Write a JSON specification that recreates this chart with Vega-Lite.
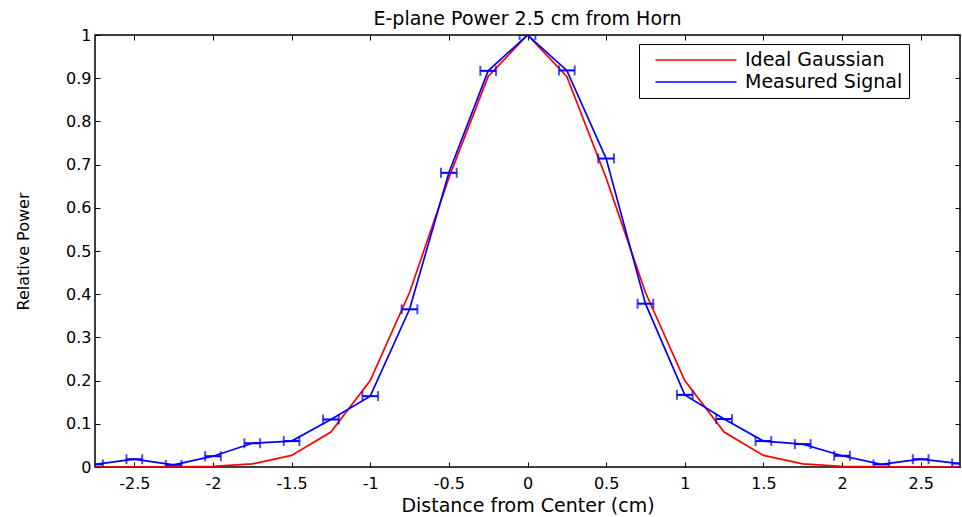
{
  "$schema": "https://vega.github.io/schema/vega-lite/v6.json",
  "width": 865,
  "height": 432,
  "autosize": {"type": "none"},
  "padding": {"left": 95, "top": 35, "right": 2, "bottom": 50},
  "background": "white",
  "title": {"text": "E-plane Power 2.5 cm from Horn", "font": "DejaVu Sans", "fontSize": 19, "fontWeight": "normal", "color": "black", "offset": -2},
  "data": {"values": [
    {"series": "Ideal Gaussian", "x": -2.75, "y": 0.0000},
    {"series": "Ideal Gaussian", "x": -2.5, "y": 0.00004},
    {"series": "Ideal Gaussian", "x": -2.25, "y": 0.0003},
    {"series": "Ideal Gaussian", "x": -2.0, "y": 0.0016},
    {"series": "Ideal Gaussian", "x": -1.75, "y": 0.0072},
    {"series": "Ideal Gaussian", "x": -1.5, "y": 0.0268},
    {"series": "Ideal Gaussian", "x": -1.25, "y": 0.081},
    {"series": "Ideal Gaussian", "x": -1.0, "y": 0.2},
    {"series": "Ideal Gaussian", "x": -0.75, "y": 0.404},
    {"series": "Ideal Gaussian", "x": -0.5, "y": 0.669},
    {"series": "Ideal Gaussian", "x": -0.25, "y": 0.904},
    {"series": "Ideal Gaussian", "x": 0.0, "y": 1.0},
    {"series": "Ideal Gaussian", "x": 0.25, "y": 0.904},
    {"series": "Ideal Gaussian", "x": 0.5, "y": 0.669},
    {"series": "Ideal Gaussian", "x": 0.75, "y": 0.404},
    {"series": "Ideal Gaussian", "x": 1.0, "y": 0.2},
    {"series": "Ideal Gaussian", "x": 1.25, "y": 0.081},
    {"series": "Ideal Gaussian", "x": 1.5, "y": 0.0268},
    {"series": "Ideal Gaussian", "x": 1.75, "y": 0.0072},
    {"series": "Ideal Gaussian", "x": 2.0, "y": 0.0016},
    {"series": "Ideal Gaussian", "x": 2.25, "y": 0.0003},
    {"series": "Ideal Gaussian", "x": 2.5, "y": 0.00004},
    {"series": "Ideal Gaussian", "x": 2.75, "y": 0.0000},
    {"series": "Measured Signal", "x": -2.75, "y": 0.006, "xlo": -2.8, "xhi": -2.7},
    {"series": "Measured Signal", "x": -2.5, "y": 0.018, "xlo": -2.55, "xhi": -2.45},
    {"series": "Measured Signal", "x": -2.25, "y": 0.005, "xlo": -2.3, "xhi": -2.2},
    {"series": "Measured Signal", "x": -2.0, "y": 0.025, "xlo": -2.05, "xhi": -1.95},
    {"series": "Measured Signal", "x": -1.75, "y": 0.055, "xlo": -1.8, "xhi": -1.7},
    {"series": "Measured Signal", "x": -1.5, "y": 0.06, "xlo": -1.55, "xhi": -1.45},
    {"series": "Measured Signal", "x": -1.25, "y": 0.11, "xlo": -1.3, "xhi": -1.2},
    {"series": "Measured Signal", "x": -1.0, "y": 0.164, "xlo": -1.05, "xhi": -0.95},
    {"series": "Measured Signal", "x": -0.75, "y": 0.365, "xlo": -0.8, "xhi": -0.7},
    {"series": "Measured Signal", "x": -0.5, "y": 0.681, "xlo": -0.55, "xhi": -0.45},
    {"series": "Measured Signal", "x": -0.25, "y": 0.917, "xlo": -0.3, "xhi": -0.2},
    {"series": "Measured Signal", "x": 0.0, "y": 1.0, "xlo": -0.05, "xhi": 0.05},
    {"series": "Measured Signal", "x": 0.25, "y": 0.918, "xlo": 0.2, "xhi": 0.3},
    {"series": "Measured Signal", "x": 0.5, "y": 0.714, "xlo": 0.45, "xhi": 0.55},
    {"series": "Measured Signal", "x": 0.75, "y": 0.378, "xlo": 0.7, "xhi": 0.8},
    {"series": "Measured Signal", "x": 1.0, "y": 0.167, "xlo": 0.95, "xhi": 1.05},
    {"series": "Measured Signal", "x": 1.25, "y": 0.111, "xlo": 1.2, "xhi": 1.3},
    {"series": "Measured Signal", "x": 1.5, "y": 0.06, "xlo": 1.45, "xhi": 1.55},
    {"series": "Measured Signal", "x": 1.75, "y": 0.053, "xlo": 1.7, "xhi": 1.8},
    {"series": "Measured Signal", "x": 2.0, "y": 0.026, "xlo": 1.95, "xhi": 2.05},
    {"series": "Measured Signal", "x": 2.25, "y": 0.006, "xlo": 2.2, "xhi": 2.3},
    {"series": "Measured Signal", "x": 2.5, "y": 0.018, "xlo": 2.45, "xhi": 2.55},
    {"series": "Measured Signal", "x": 2.75, "y": 0.008, "xlo": 2.7, "xhi": 2.8}
  ]},
  "layer": [
    {
      "mark": {"type": "line", "strokeWidth": 1.7, "clip": true},
      "encoding": {
        "x": {"field": "x", "type": "quantitative", "scale": {"domain": [-2.75, 2.75], "nice": false, "zero": false},
              "axis": {"orient": "bottom", "title": "Distance from Center (cm)", "values": [-2.5, -2, -1.5, -1, -0.5, 0, 0.5, 1, 1.5, 2, 2.5],
                       "labelExpr": "'' + datum.value", "tickSize": -5, "labelPadding": 13, "titlePadding": 5, "grid": false}},
        "y": {"field": "y", "type": "quantitative", "scale": {"domain": [0, 1], "nice": false},
              "axis": {"orient": "left", "title": "Relative Power", "values": [0, 0.1, 0.2, 0.3, 0.4, 0.5, 0.6, 0.7, 0.8, 0.9, 1],
                       "labelExpr": "'' + datum.value", "tickSize": -5, "labelPadding": 9, "titleFontSize": 16, "titlePadding": 34, "grid": false}},
        "color": {"field": "series", "type": "nominal",
                  "scale": {"domain": ["Ideal Gaussian", "Measured Signal"], "range": ["#ff0000", "#0000ff"]},
                  "legend": {"orient": "none", "legendX": 544, "legendY": 9, "title": null, "symbolType": "M-4.5,0H4.5", "symbolSize": 324, "symbolStrokeWidth": 1.5, "symbolOffset": 41,
                             "labelFont": "DejaVu Sans", "labelFontSize": 19, "labelColor": "black", "labelOffset": 39, "rowPadding": 2,
                             "strokeColor": "black", "fillColor": "white", "padding": 6, "cornerRadius": 0}}
      }
    },
    {
      "transform": [{"filter": "datum.series == 'Measured Signal'"}],
      "mark": {"type": "rule", "color": "#0000ff", "strokeWidth": 2, "clip": true},
      "encoding": {
        "x": {"field": "xlo", "type": "quantitative",
              "axis": {"orient": "top", "title": null, "labels": false, "values": [-2.5, -2, -1.5, -1, -0.5, 0, 0.5, 1, 1.5, 2, 2.5], "tickSize": -5, "domain": false, "grid": false, "minExtent": 0, "maxExtent": 0}},
        "x2": {"field": "xhi"},
        "y": {"field": "y", "type": "quantitative",
              "axis": {"orient": "right", "title": null, "labels": false, "values": [0, 0.1, 0.2, 0.3, 0.4, 0.5, 0.6, 0.7, 0.8, 0.9, 1], "tickSize": -5, "domain": false, "grid": false, "minExtent": 0, "maxExtent": 0}}
      }
    },
    {
      "transform": [{"filter": "datum.series == 'Measured Signal'"}],
      "mark": {"type": "tick", "color": "#0000ff", "orient": "vertical", "size": 10, "thickness": 2, "clip": true},
      "encoding": {
        "x": {"field": "xlo", "type": "quantitative", "axis": null},
        "y": {"field": "y", "type": "quantitative", "axis": null}
      }
    },
    {
      "transform": [{"filter": "datum.series == 'Measured Signal'"}],
      "mark": {"type": "tick", "color": "#0000ff", "orient": "vertical", "size": 10, "thickness": 2, "clip": true},
      "encoding": {
        "x": {"field": "xhi", "type": "quantitative", "axis": null},
        "y": {"field": "y", "type": "quantitative", "axis": null}
      }
    }
  ],
  "resolve": {"axis": {"x": "independent", "y": "independent"}},
  "config": {
    "view": {"stroke": "black", "strokeWidth": 1.5},
    "axis": {"domain": false, "tickColor": "black", "tickWidth": 1, "labelColor": "black", "labelFont": "DejaVu Sans", "labelFontSize": 16,
             "titleFont": "DejaVu Sans", "titleFontSize": 19, "titleFontWeight": "normal", "titleColor": "black"}
  }
}
